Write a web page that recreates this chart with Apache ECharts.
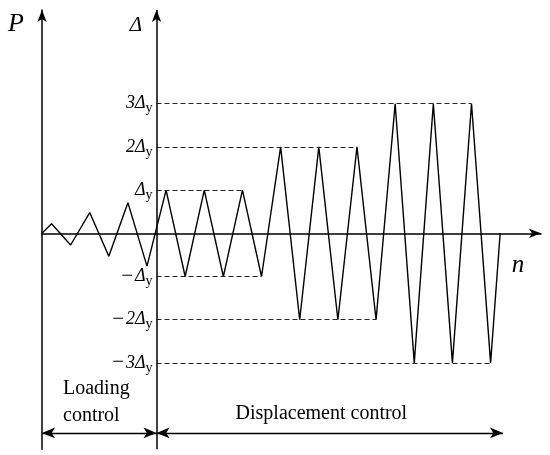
<!DOCTYPE html>
<html><head><meta charset="utf-8">
<script src="https://cdn.jsdelivr.net/npm/echarts@6/dist/echarts.min.js"></script>
<style>html,body{margin:0;padding:0;background:#fff}#c{width:550px;height:455px}</style>
</head><body><div id="c"></div>
<script>
// n = loading step (half cycles), value = displacement in units of Δy
const loadN = [0, 0.5, 1.5, 2.5, 3.5, 4.5, 5.5];
const loadV = [0, 0.22, -0.27, 0.48, -0.53, 0.71, -0.76];
const dispN = [6.5, 7.5, 8.5, 9.5, 10.5, 11.5,
               12.5, 13.5, 14.5, 15.5, 16.5, 17.5,
               18.5, 19.5, 20.5, 21.5, 22.5, 23.5, 24];
const dispV = [1, -1, 1, -1, 1, -1,
               2, -2, 2, -2, 2, -2,
               3, -3, 3, -3, 3, -3, 0];
const levels = [3, 2, 1, -1, -2, -3];
const levelSign = ['', '', '', '\u2212', '\u2212', '\u2212'];
const levelDigit = ['3', '2', '', '', '2', '3'];
const phaseStart = 6;       // n where displacement control begins
const phaseEnd = 24.15;     // end of the displacement-control arrow
const phaseArrowLevel = -4.62;
const phaseLabels = ['Loading\ncontrol', 'Displacement control'];

const allN = loadN.concat(dispN);
const allV = loadV.concat(dispV);
const seriesData = allN.map((n, i) => [n, allV[i]]);

const FONT = 'Liberation Serif';
const dashed = levels.map((lv, i) => {
  let last = phaseStart;
  allN.forEach((n, j) => { if (allV[j] === lv) last = n; });
  let txt = '';
  if (levelSign[i]) txt += '{m|' + levelSign[i] + '}';
  if (levelDigit[i]) txt += '{p|' + levelDigit[i] + '}';
  txt += '{d|\u0394}{s|y}';
  return [
    { coord: [phaseStart, lv], label: { formatter: txt } },
    { coord: [last, lv] }
  ];
});

const chart = echarts.init(document.getElementById('c'));
chart.setOption({
  animation: false,
  backgroundColor: '#fff',
  grid: { left: 42, right: 9, top: 10, bottom: 5.7, outerBoundsMode: 'none' },
  xAxis: {
    type: 'value', min: 0, max: 26.14,
    axisLine: { onZero: true, symbol: ['none', 'arrow'], symbolSize: [7, 12],
      lineStyle: { color: '#000', width: 1.5 } },
    axisTick: { show: false }, axisLabel: { show: false }, splitLine: { show: false }
  },
  yAxis: {
    type: 'value', min: -5, max: 5.17,
    axisLine: { show: true, onZero: false, symbol: ['none', 'arrow'], symbolSize: [7, 12],
      lineStyle: { color: '#000', width: 1.5 } },
    axisTick: { show: false }, axisLabel: { show: false }, splitLine: { show: false }
  },
  series: [
    {
      type: 'line', data: seriesData, symbol: 'none', clip: false, silent: true,
      lineStyle: { color: '#000', width: 1.4 },
      markLine: {
        silent: true, symbol: 'none',
        lineStyle: { color: '#222', width: 1, type: [5, 3] },
        label: {
          position: 'start', distance: 4, color: '#000',
          rich: {
            m: { fontFamily: FONT, fontSize: 21, color: '#000', padding: [0, 2, 0, 0] },
            p: { fontFamily: FONT, fontSize: 18, fontStyle: 'italic', color: '#000' },
            d: { fontFamily: FONT, fontSize: 18, fontStyle: 'italic', color: '#000' },
            s: { fontFamily: FONT, fontSize: 14, color: '#000', padding: [10, 0, 0, 0] }
          }
        },
        emphasis: { disabled: true },
        data: dashed
      }
    },
    {
      type: 'line', data: [], silent: true,
      markLine: {
        silent: true, symbol: ['none', 'arrow'], symbolSize: [7, 12],
        lineStyle: { color: '#000', width: 1.5, type: 'solid' },
        label: { show: false },
        emphasis: { disabled: true },
        data: [[{ coord: [phaseStart, -5] }, { coord: [phaseStart, 5.17] }]]
      }
    },
    {
      type: 'line', data: [], silent: true,
      markLine: {
        silent: true, symbol: ['arrow', 'arrow'], symbolSize: [8, 13],
        lineStyle: { color: '#000', width: 1.3, type: 'solid' },
        label: { show: true, position: 'insideStartTop', color: '#000',
          fontFamily: FONT, fontSize: 20, lineHeight: 27 },
        emphasis: { disabled: true },
        data: [
          [{ coord: [0, phaseArrowLevel], label: { formatter: phaseLabels[0], distance: [21, 4] } },
           { coord: [phaseStart, phaseArrowLevel] }],
          [{ coord: [phaseStart, phaseArrowLevel], label: { formatter: phaseLabels[1], distance: [79, 6] } },
           { coord: [phaseEnd, phaseArrowLevel] }]
        ]
      }
    }
  ],
  graphic: [
    { type: 'text', style: { text: 'P', x: 16, y: 24, align: 'center', verticalAlign: 'middle',
        font: 'italic 26px "Liberation Serif"', fill: '#000' } },
    { type: 'text', style: { text: '\u0394', x: 136, y: 25, align: 'center', verticalAlign: 'middle',
        font: 'italic 21px "Liberation Serif"', fill: '#000' } },
    { type: 'text', style: { text: 'n', x: 518, y: 265, align: 'center', verticalAlign: 'middle',
        font: 'italic 25px "Liberation Serif"', fill: '#000' } }
  ]
});
</script></body></html>
